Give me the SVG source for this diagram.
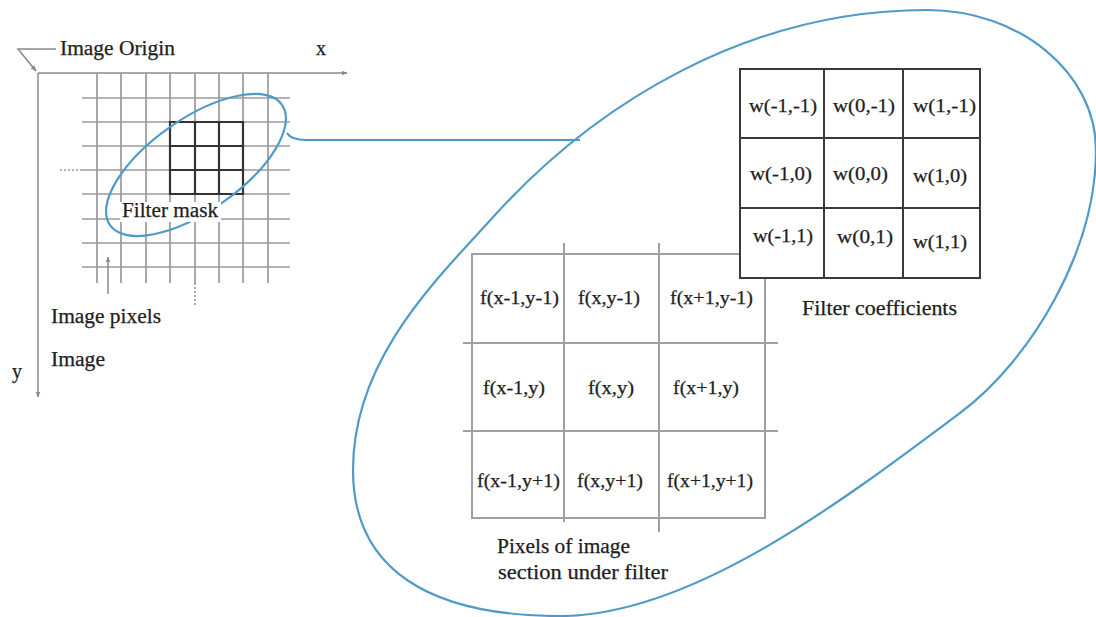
<svg xmlns="http://www.w3.org/2000/svg" width="1096" height="617" viewBox="0 0 1096 617">
<style>
.t{fill:#1e1e1e;stroke:#1e1e1e;stroke-width:0.25;}
.ax{stroke:#8a8a8a;stroke-width:1.5;fill:none;}
.grid{stroke:#9a9a9a;stroke-width:1.7;fill:none;}
.dark{stroke:#333;stroke-width:2.2;fill:none;}
.blue{stroke:#4f9bc8;stroke-width:2.2;fill:none;}
.fl{stroke:#a0a0a0;stroke-width:2;fill:none;}
.wl{stroke:#3a3a3a;stroke-width:2;}
</style>
<defs>
<marker id="ah" viewBox="0 0 10 10" refX="9" refY="5" markerWidth="6" markerHeight="6" orient="auto" markerUnits="userSpaceOnUse">
<path d="M0,1 L10,5 L0,9 z" fill="#8a8a8a"/>
</marker>
</defs>
<rect width="1096" height="617" fill="#fff"/>

<g id="big-ellipse">
<path class="blue" d="M353,470 C353,360 434.4,281.6 495,215 C596,104 747,10 927,10 C1020,10 1096,73 1096,150 C1096,250 1032,359 960,413 C840,503 690,616 560,616 C430,616 353,570 353,470 Z"/>
</g>

<g id="image" font-family="'Liberation Serif','DejaVu Serif','Times New Roman',serif">
<line class="ax" x1="38" y1="73" x2="347" y2="73" marker-end="url(#ah)"/>
<line class="ax" x1="38" y1="73" x2="38" y2="397" marker-end="url(#ah)"/>
<polyline class="ax" points="56,49 18,49 36,71" marker-end="url(#ah)"/>
<g class="grid">
<line x1="97" y1="73" x2="97" y2="283"/>
<line x1="121" y1="73" x2="121" y2="283"/>
<line x1="146" y1="73" x2="146" y2="283"/>
<line x1="170" y1="73" x2="170" y2="283"/>
<line x1="195" y1="73" x2="195" y2="283"/>
<line x1="219" y1="73" x2="219" y2="283"/>
<line x1="243" y1="73" x2="243" y2="283"/>
<line x1="268" y1="73" x2="268" y2="283"/>
<line x1="82" y1="98" x2="290" y2="98"/>
<line x1="82" y1="122" x2="290" y2="122"/>
<line x1="82" y1="146" x2="290" y2="146"/>
<line x1="82" y1="170" x2="290" y2="170"/>
<line x1="82" y1="194" x2="290" y2="194"/>
<line x1="82" y1="219" x2="290" y2="219"/>
<line x1="82" y1="243" x2="290" y2="243"/>
<line x1="82" y1="267" x2="290" y2="267"/>
<line x1="60" y1="170" x2="82" y2="170" stroke-dasharray="2,2"/>
<line x1="195" y1="283" x2="195" y2="306" stroke-dasharray="2,2"/>
</g>
<line class="ax" x1="108" y1="294" x2="108" y2="257" marker-end="url(#ah)"/>
<text class="t" x="60" y="55" font-size="20" textLength="115" lengthAdjust="spacingAndGlyphs">Image Origin</text>
<text class="t" x="316" y="55" font-size="20">x</text>
<text class="t" x="51" y="323" font-size="20" textLength="110" lengthAdjust="spacingAndGlyphs">Image pixels</text>
<text class="t" x="51" y="366" font-size="20" textLength="54" lengthAdjust="spacingAndGlyphs">Image</text>
<text class="t" x="12" y="378" font-size="20">y</text>
</g>

<g id="filter-mask" font-family="'Liberation Serif','DejaVu Serif','Times New Roman',serif">
<path class="dark" d="M170,122 H243 V194 H170 Z M195,122 V194 M219,122 V194 M170,146 H243 M170,170 H243"/>
<ellipse class="blue" cx="196" cy="165" rx="105" ry="46" transform="rotate(-35 196 165)"/>
<rect x="120" y="202" width="101" height="20" fill="#fff"/>
<text class="t" x="122" y="217" font-size="20" textLength="96" lengthAdjust="spacingAndGlyphs">Filter mask</text>
</g>

<g id="connectors">
<path class="blue" d="M287,133 Q291,140 306,140 L580,140"/>
</g>

<g id="pixel-section" font-family="'Liberation Serif','DejaVu Serif','Times New Roman',serif">
<rect class="fl" x="472" y="254" width="293" height="264" fill="#fff"/>
<line class="fl" x1="564" y1="243" x2="564" y2="522"/>
<line class="fl" x1="659" y1="243" x2="659" y2="532"/>
<line class="fl" x1="463" y1="343" x2="778" y2="343"/>
<line class="fl" x1="463" y1="431" x2="778" y2="431"/>
<g font-size="18">
<text class="t" x="480" y="304" textLength="79" lengthAdjust="spacingAndGlyphs">f(x-1,y-1)</text>
<text class="t" x="578" y="304" textLength="62" lengthAdjust="spacingAndGlyphs">f(x,y-1)</text>
<text class="t" x="670" y="304" textLength="83" lengthAdjust="spacingAndGlyphs">f(x+1,y-1)</text>
<text class="t" x="483" y="394" textLength="62" lengthAdjust="spacingAndGlyphs">f(x-1,y)</text>
<text class="t" x="588" y="394" textLength="46" lengthAdjust="spacingAndGlyphs">f(x,y)</text>
<text class="t" x="673" y="394" textLength="66" lengthAdjust="spacingAndGlyphs">f(x+1,y)</text>
<text class="t" x="477" y="487" textLength="83" lengthAdjust="spacingAndGlyphs">f(x-1,y+1)</text>
<text class="t" x="577" y="487" textLength="66" lengthAdjust="spacingAndGlyphs">f(x,y+1)</text>
<text class="t" x="667" y="487" textLength="86" lengthAdjust="spacingAndGlyphs">f(x+1,y+1)</text>
</g>
<text class="t" x="497" y="553" font-size="20" textLength="133" lengthAdjust="spacingAndGlyphs">Pixels of image</text>
<text class="t" x="498" y="579" font-size="20" textLength="170" lengthAdjust="spacingAndGlyphs">section under filter</text>
</g>

<g id="filter-coefficients" font-family="'Liberation Serif','DejaVu Serif','Times New Roman',serif">
<rect class="wl" x="740" y="69" width="240" height="209" fill="#fff"/>
<line class="wl" x1="824" y1="69" x2="824" y2="278"/>
<line class="wl" x1="903" y1="69" x2="903" y2="278"/>
<line class="wl" x1="740" y1="138" x2="980" y2="138"/>
<line class="wl" x1="740" y1="208" x2="980" y2="208"/>
<g font-size="19">
<text class="t" x="749" y="112" textLength="68" lengthAdjust="spacingAndGlyphs">w(-1,-1)</text>
<text class="t" x="833" y="112" textLength="62" lengthAdjust="spacingAndGlyphs">w(0,-1)</text>
<text class="t" x="913" y="112" textLength="63" lengthAdjust="spacingAndGlyphs">w(1,-1)</text>
<text class="t" x="750" y="180" textLength="62" lengthAdjust="spacingAndGlyphs">w(-1,0)</text>
<text class="t" x="833" y="180" textLength="55" lengthAdjust="spacingAndGlyphs">w(0,0)</text>
<text class="t" x="913" y="182" textLength="54" lengthAdjust="spacingAndGlyphs">w(1,0)</text>
<text class="t" x="753" y="242" textLength="60" lengthAdjust="spacingAndGlyphs">w(-1,1)</text>
<text class="t" x="837" y="243" textLength="56" lengthAdjust="spacingAndGlyphs">w(0,1)</text>
<text class="t" x="913" y="248" textLength="54" lengthAdjust="spacingAndGlyphs">w(1,1)</text>
</g>
<text class="t" x="802" y="315" font-size="20" textLength="155" lengthAdjust="spacingAndGlyphs">Filter coefficients</text>
</g>
</svg>
